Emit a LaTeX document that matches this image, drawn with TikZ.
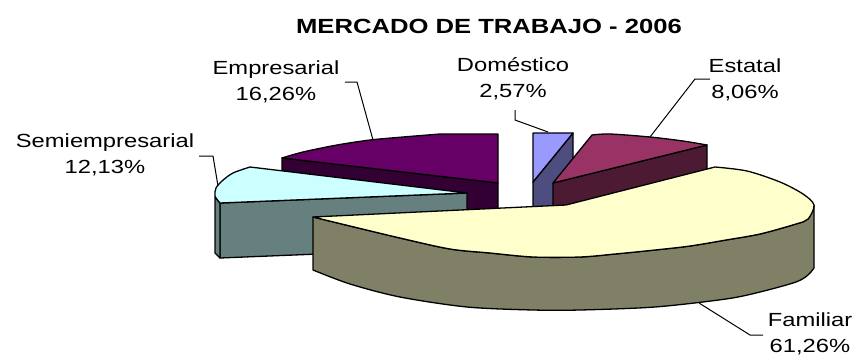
\documentclass[tikz,border=0pt]{standalone}
\usepackage{fontspec}
\setmainfont{Liberation Sans}
\newcommand{\wtxt}[1]{\scalebox{1.25}[1]{#1}}
\definecolor{famtop}{HTML}{FFFFCC}
\definecolor{famside}{HTML}{808066}
\definecolor{semtop}{HTML}{CCFFFF}
\definecolor{semside}{HTML}{668080}
\definecolor{emptop}{HTML}{660066}
\definecolor{empside}{HTML}{330033}
\definecolor{domtop}{HTML}{9999FF}
\definecolor{domside}{HTML}{4D4D80}
\definecolor{esttop}{HTML}{993366}
\definecolor{estside}{HTML}{4D1A33}
\begin{document}
\begin{tikzpicture}[x=1pt,y=-1pt,
  face/.style={draw=black,line width=1.3pt,line join=round},
  lbl/.style={align=center,font=\fontsize{19}{26}\selectfont,inner sep=0pt},
  lead/.style={draw=black,line width=1pt,line join=miter}]
\useasboundingbox[fill=white] (0,0) rectangle (854,356);

% title
\node[font=\fontsize{20.5}{24}\selectfont\bfseries,inner sep=0pt] (title) at (489,26) {\wtxt{MERCADO DE TRABAJO - 2006}};

% ---- Empresarial
\path[face,fill=empside] (282,158) -- (498,183) -- (498,237) -- (282,212) -- cycle;
\path[face,fill=emptop] plot[smooth] coordinates {(282,158) (303,152) (337,145) (370,140) (403,137) (440,134)} -- (498,134) -- (498,183) -- cycle;

% ---- Semiempresarial
\path[face,fill=semside] (220,203) -- (467,193) -- (467,248) -- (220,258) -- cycle;
\path[face,fill=semside] (215,197) -- (220,203) -- (220,258) -- (215,253) -- cycle;
\path[face,fill=semtop] (250,167) -- (467,193) -- (220,203) -- plot[smooth] coordinates {(220,203) (215,196) (216,188) (222,181) (233,173) (250,167)} -- cycle;

% ---- Domestico
\path[face,fill=domside] (573,133) -- (533,182) -- (533,236) -- (573,187) -- cycle;
\path[face,fill=domtop] (533,133) -- (573,133) -- (533,182) -- cycle;

% ---- Estatal
\path[face,fill=estside] (553,183) -- (707,145) -- (707,199) -- (553,237) -- cycle;
\path[face,fill=esttop] (553,183) -- plot[smooth] coordinates {(592,135) (610,134) (650,137) (683,141) (707,145)} -- cycle;

% ---- Familiar
\path[face,fill=famside] plot[smooth] coordinates {(814,205) (808,219) (796,224) (760,234) (726,240) (690,246) (655,250) (615,254) (580,257) (533,257) (490,253) (450,249) (400,238) (350,226) (313,217)}
  -- plot[smooth] coordinates {(313,270) (350,284) (400,297) (467,307) (533,310) (580,310) (655,307) (726,299) (760,292) (796,282) (808,275) (814,268)} -- cycle;
\path[face,fill=famtop] (313,217) -- (566,205) -- (715,167) -- plot[smooth] coordinates {(715,167) (747,171) (780,182) (803,194) (814,205) (808,219) (796,224) (760,234) (726,240) (690,246) (655,250) (615,254) (580,257) (533,257) (490,253) (450,249) (400,238) (350,226) (313,217)} -- cycle;

% ---- labels
\node[lbl] (lemp) at (276,82) {\wtxt{Empresarial}\\\wtxt{16,26\%}};
\node[lbl] (ldom) at (513,79) {\wtxt{Doméstico}\\\wtxt{2,57\%}};
\node[lbl] (lest) at (745,80) {\wtxt{Estatal}\\\wtxt{8,06\%}};
\node[lbl] (lsem) at (105,155) {\wtxt{Semiempresarial}\\\wtxt{12,13\%}};
\node[lbl] (lfam) at (810,334) {\wtxt{Familiar}\\\wtxt{61,26\%}};

% ---- leader lines
\coordinate (pemp) at (373,140);
\coordinate (pdom) at (548,132);
\coordinate (pest) at (650,137);
\coordinate (psem) at (218,186);
\coordinate (pfam) at (699,303);
\draw[lead] (345,82) -- (357,82) -- (pemp);
\draw[lead] (515,110) -- (515,120) -- (pdom);
\draw[lead] (710,79) -- (695,79) -- (pest);
\draw[lead] (199,156) -- (213,156) -- (psem);
\draw[lead] (763,335) -- (750,335) -- (pfam);
\end{tikzpicture}
\end{document}
